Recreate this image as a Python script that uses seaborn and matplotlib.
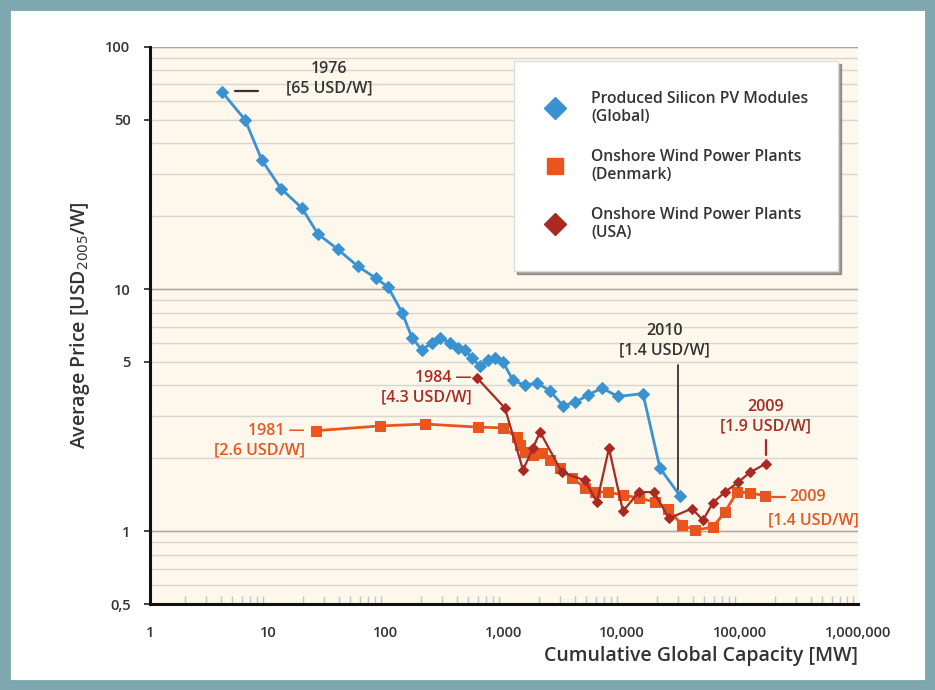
import numpy as np
import pandas as pd
import seaborn as sns
import matplotlib.pyplot as plt
from matplotlib.lines import Line2D
from matplotlib.patches import Rectangle
from matplotlib.ticker import LogLocator, NullFormatter

# Produced silicon PV modules (global), 1976 -> 2010
pv_capacity = [4.1, 6.4, 8.9, 12.9, 19.4, 26.5, 39, 58, 82, 104, 137, 166, 202,
               245, 287, 349, 407, 467, 535, 626, 731, 839, 981, 1190, 1510,
               1900, 2450, 3160, 4000, 5150, 6770, 9250, 15060, 21000, 31000]
pv_price = [65, 50, 34, 26, 21.6, 16.9, 14.6, 12.4, 11.1, 10.2, 8.0, 6.3, 5.6,
            6.0, 6.3, 6.0, 5.7, 5.6, 5.2, 4.8, 5.1, 5.2, 5.0, 4.2, 4.0,
            4.1, 3.8, 3.3, 3.4, 3.65, 3.9, 3.6, 3.7, 1.82, 1.4]

# Onshore wind power plants (Denmark), 1981 -> 2009
dk_capacity = [25.5, 89, 214, 602, 981, 1290, 1370, 1510, 1760, 2100, 2450,
               2990, 3770, 4860, 5900, 7600, 10190, 13930, 19050, 24500,
               32200, 41600, 59000, 74600, 94400, 121600, 163000]
dk_price = [2.6, 2.72, 2.77, 2.69, 2.67, 2.44, 2.27, 2.12, 2.06, 2.10, 1.96,
            1.82, 1.66, 1.51, 1.45, 1.45, 1.41, 1.37, 1.32, 1.24,
            1.06, 1.01, 1.04, 1.20, 1.45, 1.44, 1.4]

# Onshore wind power plants (USA), 1984 -> 2009
us_capacity = [590, 1020, 1450, 1760, 2020, 3100, 4860, 6140, 7760, 10190,
               13930, 18680, 25000, 39200, 48600, 59000, 74600, 96200,
               121600, 166000]
us_price = [4.3, 3.22, 1.79, 2.2, 2.57, 1.75, 1.62, 1.32, 2.2, 1.21,
            1.45, 1.45, 1.13, 1.24, 1.11, 1.31, 1.45, 1.59, 1.75, 1.9]

series_names = ["Produced Silicon PV Modules\n(Global)",
                "Onshore Wind Power Plants\n(Denmark)",
                "Onshore Wind Power Plants\n(USA)"]

BLUE = "#3b92d0"
ORANGE = "#e8561e"
DARKRED = "#a82a22"
GREY_TXT = "#333333"

sns.set_theme(style="white")
plt.rcParams['font.family'] = ['Open Sans', 'DejaVu Sans']

fig = plt.figure(figsize=(9.35, 6.9), dpi=100)
fig.patch.set_facecolor("white")
ax = fig.add_axes([0.1604, 0.1246, 0.7572, 0.8073])
ax.set_facecolor("#fdf7ec")

ax.set_xscale("log")
ax.set_yscale("log")
ax.set_xlim(1, 1e6)
ax.set_ylim(0.5, 100)

# horizontal grid on every log step, darker at decades
ax.yaxis.set_minor_locator(LogLocator(base=10, subs=np.arange(1, 10)))
ax.yaxis.set_minor_formatter(NullFormatter())
ax.yaxis.remove_overlapping_locs = False
ax.yaxis.grid(True, which="minor", color="#d9d6cf", linewidth=1.0)
ax.yaxis.grid(False, which="major")
for d in [1, 10, 100]:
    ax.axhline(d, color="#a9a7a2", linewidth=1.0, zorder=1)

sns.lineplot(x=pv_capacity, y=pv_price, ax=ax, color=BLUE, marker="D",
             markersize=6, markeredgecolor=BLUE, linewidth=2,
             sort=False, estimator=None, zorder=4)
sns.lineplot(x=dk_capacity, y=dk_price, ax=ax, color=ORANGE, marker="s",
             markersize=6.5, markeredgecolor=ORANGE, linewidth=2,
             sort=False, estimator=None, zorder=3)
sns.lineplot(x=us_capacity, y=us_price, ax=ax, color=DARKRED, marker="D",
             markersize=5.2, markeredgecolor=DARKRED, linewidth=1.6,
             sort=False, estimator=None, zorder=3)

# ticks
xt = [1, 10, 100, 1e3, 1e4, 1e5, 1e6]
ax.set_xticks(xt)
ax.set_xticklabels([f"{int(v):,}" for v in xt])
ax.xaxis.set_minor_locator(LogLocator(base=10, subs=np.arange(2, 10)))
ax.xaxis.set_minor_formatter(NullFormatter())
ax.tick_params(axis="x", which="major", direction="in", length=11,
               width=1, color="#b8b5ae", pad=16)
ax.tick_params(axis="x", which="minor", direction="in", length=6,
               width=1, color="#c8c5be", bottom=True)
yt = [0.5, 1, 5, 10, 50, 100]
ax.set_yticks(yt)
ax.set_yticklabels(["0,5", "1", "5", "10", "50", "100"])
ax.tick_params(axis="y", which="major", direction="out", length=4,
               width=1.2, color="#222222", pad=10, left=True)
ax.tick_params(axis="y", which="minor", length=0)
for lab in ax.get_xticklabels() + ax.get_yticklabels():
    lab.set_fontsize(10.5)
    lab.set_fontweight("semibold")
    lab.set_color(GREY_TXT)

for s in ["top", "right"]:
    ax.spines[s].set_visible(False)
for s in ["left", "bottom"]:
    ax.spines[s].set_color("#111111")
    ax.spines[s].set_linewidth(2.2)

ax.set_ylabel("Average Price [USD$_{2005}$/W]", fontsize=14,
              fontweight="semibold", color=GREY_TXT, labelpad=10)
ax.set_xlabel("Cumulative Global Capacity [MW]", fontsize=14,
              fontweight="semibold", color=GREY_TXT, loc="right", labelpad=4)

# annotations
afont = dict(fontsize=11.5, fontweight="semibold", linespacing=1.3)
ax.plot([5.3, 8.2], [66, 66], color=GREY_TXT, lw=1.6)
ax.text(33, 74, "1976\n[65 USD/W]", ha="center", va="center",
        color=GREY_TXT, **afont)
ax.text(20.6, 2.36, "1981 \u2014\n[2.6 USD/W]", ha="right", va="center",
        multialignment="right", color=ORANGE, **afont)
ax.text(530, 3.9, "1984 \u2014\n[4.3 USD/W]", ha="right", va="center",
        multialignment="right", color=DARKRED, **afont)
ax.text(23000, 6.1, "2010\n[1.4 USD/W]", ha="center", va="center",
        color=GREY_TXT, **afont)
ax.plot([29800, 29800], [1.48, 4.85], color=GREY_TXT, lw=1.3)
ax.text(166000, 2.96, "2009\n[1.9 USD/W]", ha="center", va="center",
        color=DARKRED, **afont)
ax.plot([166000, 166000], [2.06, 2.38], color=DARKRED, lw=1.6)
ax.plot([186000, 240000], [1.39, 1.39], color=ORANGE, lw=1.6)
ax.text(262000, 1.39, "2009", ha="left", va="center", color=ORANGE, **afont)
ax.text(172000, 1.11, "[1.4 USD/W]", ha="left", va="center",
        color=ORANGE, **afont)

# legend with markers only
handles = [Line2D([], [], ls="none", marker="D", ms=11, color=BLUE),
           Line2D([], [], ls="none", marker="s", ms=11, color=ORANGE),
           Line2D([], [], ls="none", marker="D", ms=11, color=DARKRED)]
leg = ax.legend(handles, series_names, loc="upper right",
                bbox_to_anchor=(0.972, 0.975), frameon=True, shadow=True,
                fancybox=False, fontsize=11.3, borderpad=1.9, labelspacing=1.5,
                handletextpad=1.6, borderaxespad=0, handlelength=1.4)
leg.get_frame().set_facecolor("white")
leg.get_frame().set_edgecolor("#dddddd")
leg.get_frame().set_alpha(1)
for t in leg.get_texts():
    t.set_color(GREY_TXT)
    t.set_fontweight("semibold")

# outer frame
fig.patches.append(Rectangle((0, 0), 1, 1, transform=fig.transFigure,
                             fill=False, edgecolor="#7fa7af", linewidth=15))

fig.savefig("out.png", dpi=100)
